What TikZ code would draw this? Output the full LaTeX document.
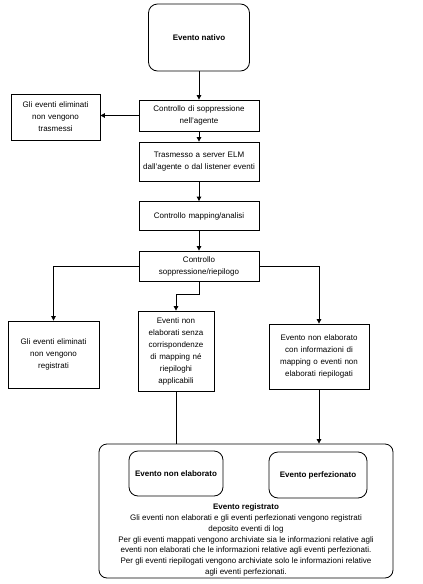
\documentclass[tikz,border=0pt]{standalone}
\usepackage{fontspec}
\setmainfont{Liberation Sans}
\usetikzlibrary{arrows.meta,calc}
\begin{document}
\begin{tikzpicture}[x=1pt,y=1pt,
  every node/.style={font=\fontsize{8}{12}\selectfont, align=center, inner sep=1pt},
  boxn/.style={draw, line width=0.8pt, minimum width=#1, text width=#1-4pt},
  rbox/.style={draw, line width=0.8pt, rounded corners=9pt, minimum width=#1},
  conn/.style={line width=0.8pt},
  arr/.style={conn, -{Triangle[length=4.5pt,width=4.5pt]}}
]
\useasboundingbox (0,0) rectangle (423,-584);
\node[rbox=101pt, minimum height=67pt, font=\fontsize{8}{12}\selectfont\bfseries] (nativo) at (199,-37.5) {Evento nativo};
\node[boxn=120pt, minimum height=31pt] (ctrl1) at (199,-115.5) {Controllo di soppressione\\ nell'agente};
\node[boxn=89pt, minimum height=46pt] (elim1) at (55.5,-117) {Gli eventi eliminati\\ non vengono\\ trasmessi};
\node[boxn=120pt, minimum height=39pt] (trasm) at (199,-161.5) {Trasmesso a server ELM\\ dall'agente o dal listener eventi};
\node[boxn=120pt, minimum height=29pt] (mapping) at (199,-216) {Controllo mapping/analisi};
\node[boxn=120pt, minimum height=30pt] (ctrl2) at (199,-266) {Controllo\\ soppressione/riepilogo};
\node[boxn=91pt, minimum height=67pt] (elim2) at (53.5,-354.5) {Gli eventi eliminati\\ non vengono\\ registrati};
\node[boxn=76pt, minimum height=80pt] (nonel) at (176,-351) {Eventi non\\ elaborati senza\\ corrispondenze\\ di mapping né\\ riepiloghi\\ applicabili};
\node[boxn=100pt, minimum height=65pt] (nonel2) at (319,-356.5) {Evento non elaborato\\ con informazioni di\\ mapping o eventi non\\ elaborati riepilogati};
\node[rbox=294pt, minimum height=134pt, rounded corners=8pt] (big) at (246,-511) {};
\node[rbox=94pt, minimum height=45pt, font=\fontsize{8}{12}\selectfont\bfseries] (in1) at (176,-473.5) {Evento non elaborato};
\node[rbox=98pt, minimum height=46pt, font=\fontsize{8}{12}\selectfont\bfseries] (in2) at (318,-475) {Evento perfezionato};
\node[font=\fontsize{8}{10.8}\selectfont] (regtxt) at (246,-540) {\textbf{Evento registrato}\\
Gli eventi non elaborati e gli eventi perfezionati vengono registrati\\
deposito eventi di log\\
Per gli eventi mappati vengono archiviate sia le informazioni relative agli\\
eventi non elaborati che le informazioni relative agli eventi perfezionati.\\
Per gli eventi riepilogati vengono archiviate solo le informazioni relative\\
agli eventi perfezionati.};
\draw[arr] (nativo.south) -- (nativo.south |- ctrl1.north);
\draw[arr] (ctrl1.west) -- (ctrl1.west -| elim1.east);
\draw[arr] (ctrl1.south) -- (trasm.north);
\draw[arr] (trasm.south) -- (mapping.north);
\draw[arr] (mapping.south) -- (ctrl2.north);
\draw[arr] (ctrl2.west) -| (elim2.north);
\draw[arr] (ctrl2.east) -| (nonel2.north);
\draw[arr] (ctrl2.south) -- ++(0,-13) -| (nonel.north);
\draw[conn] (nonel.south) -- (nonel.south |- big.north);
\draw[arr] (nonel2.south) -- (nonel2.south |- big.north);
\end{tikzpicture}
\end{document}
